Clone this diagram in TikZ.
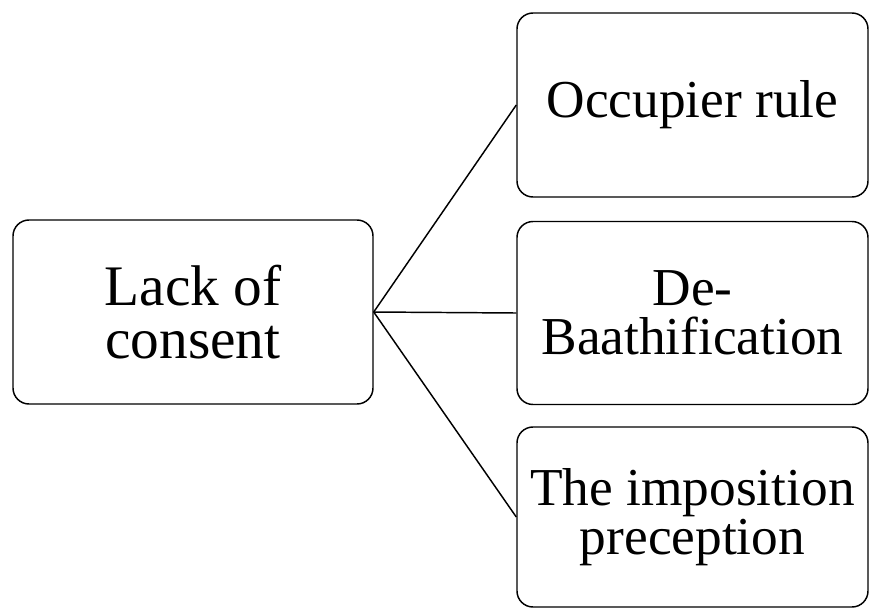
\documentclass[tikz,border=0pt]{standalone}
\usepackage{fontspec}
\setmainfont{Liberation Serif}
\usepackage{tikz}

\begin{document}
\begin{tikzpicture}[x=0.75pt,y=-0.75pt,
    topicbox/.style={draw,line width=1.1pt,rounded corners=12pt,align=center,
      minimum width=351*0.75pt,inner sep=0pt,font=\fontsize{40}{37}\selectfont},
    link/.style={line width=1.1pt}]
  \useasboundingbox (0,0) rectangle (869,608);
  % left box
  \node[topicbox,minimum width=360*0.75pt,minimum height=184*0.75pt,
        font=\fontsize{43}{40}\selectfont] (lack) at (193,312) {Lack of\\consent};
  % right column
  \node[topicbox,minimum height=184*0.75pt] (occupier) at (692.5,105) {Occupier rule};
  \node[topicbox,minimum height=183*0.75pt] (debaath) at (692.5,313) {De-\\Baathification};
  \node[topicbox,minimum height=180*0.75pt] (imposition) at (692.5,517) {The imposition\\preception};
  % connectors
  \draw[link] (lack.east) -- (occupier.west);
  \draw[link] (lack.east) -- (debaath.west);
  \draw[link] (lack.east) -- (imposition.west);
\end{tikzpicture}
\end{document}
